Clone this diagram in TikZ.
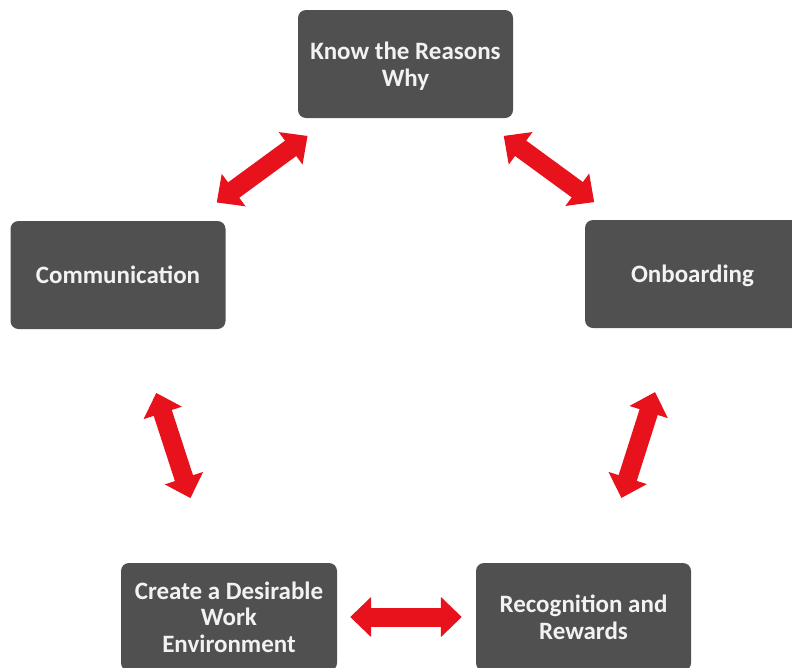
\documentclass[tikz,border=0pt]{standalone}
\usepackage{fontspec}
\setmainfont{Carlito}
\usetikzlibrary{arrows.meta}
\definecolor{boxgray}{HTML}{505050}
\definecolor{arrowred}{HTML}{E8121C}
\definecolor{labelwhite}{HTML}{F2F2F2}
\begin{document}
\begin{tikzpicture}[x=1pt,y=-1pt,
  stage/.style={draw=none, fill=boxgray, rounded corners=8pt,
    minimum width=215pt, minimum height=108pt, inner sep=0pt,
    align=center, text=labelwhite, text depth=0pt,
    font=\fontsize{25}{26.5}\selectfont\bfseries},
  link/.style={draw=arrowred, line width=19pt,
    {Triangle[length=21pt,width=39pt]}-{Triangle[length=21pt,width=39pt]}}]
  \useasboundingbox (0,0) rectangle (792,667);
  \begin{scope}
    \clip (0,0) rectangle (792,667);
    \node[stage] (why)    at (405.5,64) {Know the Reasons\\Why};
    \node[stage] (comm)   at (118,275)  {Communication};
    \node[stage] (onb)    at (692.5,274) {Onboarding};
    \node[stage, minimum width=216pt] (env) at (229,617) {Create a Desirable\\Work\\Environment};
    \node[stage] (reward) at (583.5,617) {Recognition and\\Rewards};
  \end{scope}
  \draw[link, shorten <=30pt, shorten >=31pt] (why) -- (comm);
  \draw[link, shorten <=30pt, shorten >=30pt] (why) -- (onb);
  \draw[link, shorten <=67pt, shorten >=68pt] (comm) -- (env);
  \draw[link, shorten <=67pt, shorten >=68pt] (onb) -- (reward);
  \draw[link, shorten <=13pt, shorten >=14pt] (env) -- (reward);
\end{tikzpicture}
\end{document}
